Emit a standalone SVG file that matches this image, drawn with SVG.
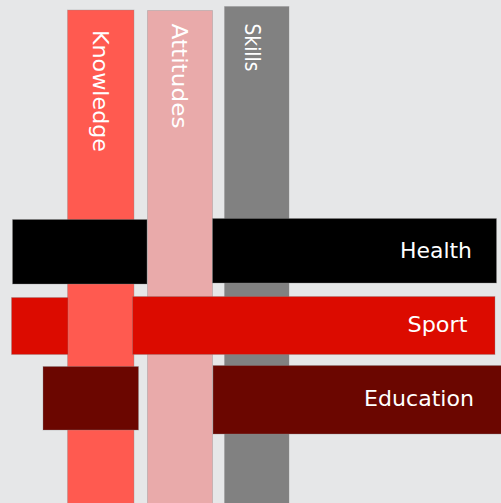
<svg xmlns="http://www.w3.org/2000/svg" width="501" height="503" viewBox="0 0 501 503">
  <style>
    .bar { stroke: #8a8a8a; stroke-opacity: 0.35; stroke-width: 1; }
    .vlabel { font-family: "DejaVu Sans", "Open Sans", sans-serif; font-size: 22px; fill: #ffffff; }
    .hlabel { font-family: "DejaVu Sans", "Open Sans", sans-serif; font-size: 22px; fill: #ffffff; }
  </style>
  <rect x="0" y="0" width="501" height="503" fill="#e6e7e8"/>

  <g id="knowledge">
    <rect class="bar" x="67.5" y="10" width="66.5" height="500" fill="#ff5a50"/>
    <text class="vlabel" transform="translate(92.5,30) rotate(90)" textLength="122" lengthAdjust="spacingAndGlyphs">Knowledge</text>
  </g>

  <g id="attitudes">
    <rect class="bar" x="147.5" y="10.5" width="65" height="500" fill="#e9aaaa"/>
    <text class="vlabel" transform="translate(172,23.5) rotate(90)" textLength="105" lengthAdjust="spacingAndGlyphs">Attitudes</text>
  </g>

  <g id="skills">
    <rect class="bar" x="224.5" y="6.5" width="64.5" height="500" fill="#818181"/>
    <text class="vlabel" transform="translate(245,23.5) rotate(90)" textLength="48" lengthAdjust="spacingAndGlyphs">Skills</text>
  </g>

  <g id="health">
    <rect class="bar" x="12.5" y="219.5" width="134.5" height="64.5" fill="#000000"/>
    <rect class="bar" x="212.5" y="218.5" width="284" height="64.5" fill="#000000"/>
    <text class="hlabel" x="400" y="257.7" textLength="72" lengthAdjust="spacingAndGlyphs">Health</text>
  </g>

  <g id="sport">
    <rect class="bar" x="11.5" y="297.5" width="56.5" height="57" fill="#dc0b00"/>
    <rect class="bar" x="132.5" y="296.5" width="362.5" height="58" fill="#dc0b00"/>
    <text class="hlabel" x="407.5" y="331.5" textLength="60" lengthAdjust="spacingAndGlyphs">Sport</text>
  </g>

  <g id="education">
    <rect class="bar" x="43" y="366.5" width="95.5" height="63.5" fill="#6b0600"/>
    <rect class="bar" x="213" y="365.5" width="290" height="68.5" fill="#6b0600"/>
    <text class="hlabel" x="364" y="406" textLength="110" lengthAdjust="spacingAndGlyphs">Education</text>
  </g>
</svg>
